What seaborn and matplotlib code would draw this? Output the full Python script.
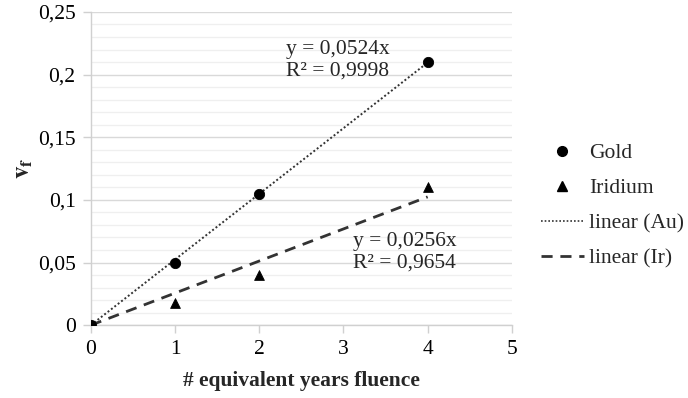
import numpy as np
import pandas as pd
import seaborn as sns
import matplotlib
matplotlib.use("Agg")
import matplotlib.pyplot as plt
from matplotlib.ticker import MultipleLocator, FuncFormatter
from matplotlib.lines import Line2D

# Measured data
years_gold = [0, 1, 2, 4]
vf_gold = [0.0, 0.05, 0.105, 0.21]
years_ir = [0, 1, 2, 4]
vf_ir = [0.0, 0.018, 0.04, 0.11]

# Linear fits through the origin
slope_au = 0.0524
r2_au = 0.9998
slope_ir = 0.0256
r2_ir = 0.9654
fit_x = [0, 4]

x_ticks = [0, 1, 2, 3, 4, 5]
y_ticks = [0, 0.05, 0.1, 0.15, 0.2, 0.25]

sns.set_theme(style="white")
plt.rcParams["font.family"] = ["Liberation Serif", "DejaVu Serif"]
plt.rcParams["mathtext.fontset"] = "stix"

FS = 15.5

fig = plt.figure(figsize=(6.88, 3.98), dpi=100)
ax = fig.add_axes([0.132, 0.183, 0.612, 0.787])

df_au = pd.DataFrame({"x": years_gold, "y": vf_gold})
df_ir = pd.DataFrame({"x": years_ir, "y": vf_ir})
fit_au = pd.DataFrame({"x": fit_x, "y": [slope_au * v for v in fit_x]})
fit_ir = pd.DataFrame({"x": fit_x, "y": [slope_ir * v for v in fit_x]})

line_col = "#333333"
sns.lineplot(data=fit_au, x="x", y="y", ax=ax, color=line_col, lw=1.4,
             linestyle=(0, (1, 1.2)), zorder=2)
sns.lineplot(data=fit_ir, x="x", y="y", ax=ax, color=line_col, lw=2.0,
             linestyle=(0, (4, 2.8)), zorder=2)
sns.scatterplot(data=df_au, x="x", y="y", ax=ax, marker="o", s=55,
                color="black", edgecolor="black", zorder=3)
sns.scatterplot(data=df_ir, x="x", y="y", ax=ax, marker="^", s=50,
                color="black", edgecolor="black", zorder=3)

ax.set_xlim(0, 5)
ax.set_ylim(0, 0.25)
ax.set_xticks(x_ticks)
ax.set_yticks(y_ticks)
ax.yaxis.set_minor_locator(MultipleLocator(0.01))

def comma(v, pos=None):
    s = f"{v:.2f}".rstrip("0").rstrip(".")
    return s.replace(".", ",")

ax.yaxis.set_major_formatter(FuncFormatter(comma))
ax.xaxis.set_major_formatter(FuncFormatter(lambda v, p: f"{int(v)}"))

ax.grid(which="major", axis="y", color="#d9d9d9", lw=1.0)
ax.grid(which="minor", axis="y", color="#efefef", lw=0.9)
ax.set_axisbelow(True)

for side in ("top", "right"):
    ax.spines[side].set_visible(False)
for side in ("left", "bottom"):
    ax.spines[side].set_color("#d0d0d0")
    ax.spines[side].set_linewidth(1.0)

ax.tick_params(axis="both", which="major", labelsize=FS, colors="black",
               length=6, width=1.0, color="#d0d0d0", pad=5)
ax.tick_params(axis="x", direction="out", bottom=True)
ax.tick_params(axis="y", direction="out", left=True)
ax.tick_params(axis="y", which="minor", left=False)

ax.set_xlabel("# equivalent years fluence", fontsize=FS, fontweight="bold",
              labelpad=8)
ax.set_ylabel(r"$\mathbf{v}_\mathbf{f}$", fontsize=18, labelpad=2)

ax.text(2.32, 0.2117,
        f"y = {str(slope_au).replace('.', ',')}x\nR² = {str(r2_au).replace('.', ',')}",
        fontsize=FS, ha="left", va="center", linespacing=1.2)
ax.text(3.11, 0.0583,
        f"y = {str(slope_ir).replace('.', ',')}x\nR² = {str(r2_ir).replace('.', ',')}",
        fontsize=FS, ha="left", va="center", linespacing=1.2)

handles = [
    Line2D([], [], marker="o", ls="none", color="black", markersize=7),
    Line2D([], [], marker="^", ls="none", color="black", markersize=7),
    Line2D([], [], color=line_col, lw=1.2, ls=(0, (1, 1.2))),
    Line2D([], [], color=line_col, lw=2.0, ls=(0, (4, 2.8))),
]
labels = ["Gold", "Iridium", "linear (Au)", "linear (Ir)"]
fig.legend(handles, labels, loc="center left", bbox_to_anchor=(0.758, 0.483),
           frameon=False, fontsize=FS, handlelength=2.0, handletextpad=0.25,
           labelspacing=0.7)

fig.savefig("out.png", dpi=100)
